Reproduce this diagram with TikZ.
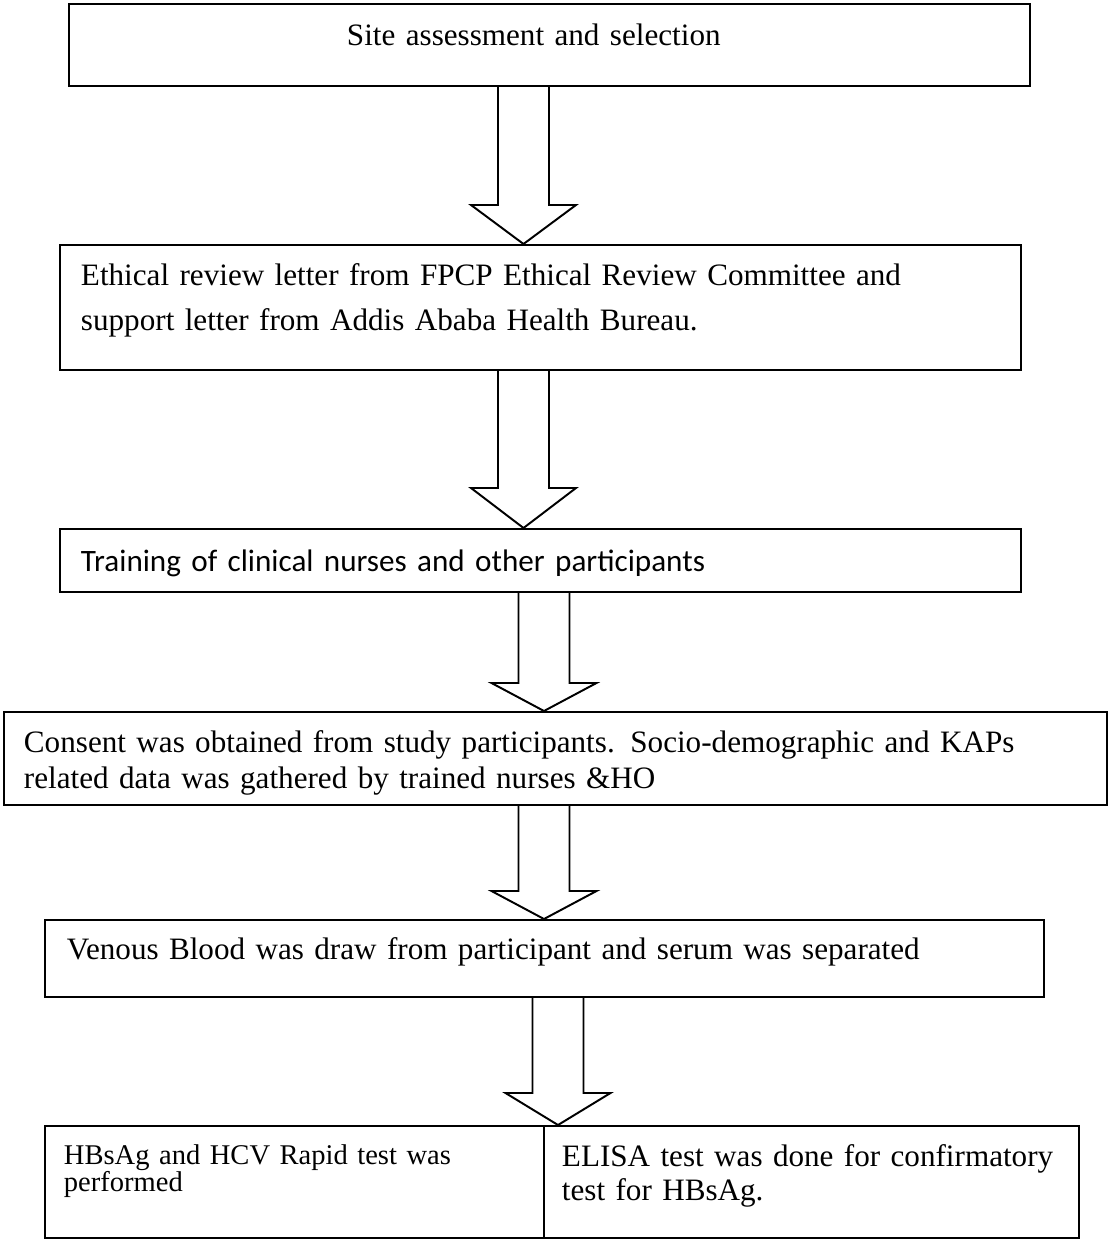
\documentclass[tikz,border=0pt]{standalone}
\usepackage{fontspec}
\setmainfont{Liberation Serif}
\newfontfamily\calibri{Carlito}
\usetikzlibrary{calc}
\newlength\px
\setlength\px{0.3853pt}
\begin{document}
\begin{tikzpicture}[x=\px, y=-\px,
  box/.style={draw, line width=0.75pt, rectangle, anchor=north west, inner ysep=0pt, align=left, font=\fontsize{12}{17}\selectfont},
  blockarrow/.style={draw, line width=0.75pt, line join=miter}]
\useasboundingbox (0,0) rectangle (1108,1239);
% boxes of the flow
\node[box, inner xsep=278\px, text width=405\px, text height=42\px, text depth=40\px] (site) at (68,3) {Site assessment and selection};
\node[box, inner xsep=21\px, text width=919\px, text height=41\px, text depth=84\px] (ethics) at (59,244) {Ethical review letter from FPCP Ethical Review Committee and\\ support letter from Addis Ababa Health Bureau.};
\node[box, inner xsep=21\px, text width=919\px, text height=43\px, text depth=20\px, font=\calibri\fontsize{12}{14}\selectfont] (training) at (59,528) {Training of clinical nurses and other participants};
\node[box, inner xsep=20\px, text width=1063\px, text height=41\px, text depth=52\px, font=\fontsize{12}{13.5}\selectfont] (consent) at (3,711) {Consent was obtained from study participants. Socio-demographic and KAPs\\ related data was gathered by trained nurses \&HO};
\node[box, inner xsep=22\px, text width=955\px, text height=40\px, text depth=37\px] (venous) at (44,919) {Venous Blood was draw from participant and serum was separated};
\node[box, inner xsep=19\px, text width=461\px, text height=39\px, text depth=73\px, font=\fontsize{11}{10.4}\selectfont] (rapid) at (44,1125) {HBsAg and HCV Rapid test was\\ performed};
\node[box, inner xsep=18\px, text width=499\px, text height=41\px, text depth=71\px, font=\fontsize{12}{13.1}\selectfont] (elisa) at (543,1125) {ELISA test was done for confirmatory\\ test for HBsAg.};
% block arrows between the boxes
\foreach \a/\b/\x/\h in {site/ethics/523.5/39, ethics/training/523.5/40, training/consent/544/28, consent/venous/544/28, venous/elisa/558/32} {
  \coordinate (ax) at (\x,0);
  \draw[blockarrow] ($(\a.south -| ax)+(-25.5,0)$) -- ($(\b.north -| ax)+(-25.5,-\h)$) -- ($(\b.north -| ax)+(-52.5,-\h)$) -- (\b.north -| ax) -- ($(\b.north -| ax)+(52.5,-\h)$) -- ($(\b.north -| ax)+(25.5,-\h)$) -- ($(\a.south -| ax)+(25.5,0)$);
}
\end{tikzpicture}
\end{document}
